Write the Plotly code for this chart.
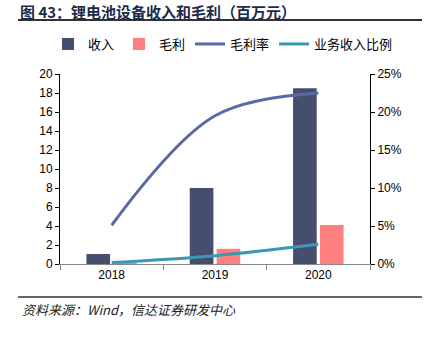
import plotly.graph_objects as go

years = ["2018", "2019", "2020"]
income = [1.05, 8.0, 18.5]
gross = [0.08, 1.6, 4.1]
margin = [0.051, 0.195, 0.225]
share = [0.002, 0.011, 0.026]

W, H = 432, 338
L, R, T, B = 60, 62, 74, 74
pw, ph = W - L - R, H - T - B

def px(x):
    return (x - L) / pw

def py(y):
    return (H - B - y) / ph

FONT = "Liberation Sans, Arial, sans-serif"

fig = go.Figure()
fig.add_trace(go.Bar(x=years, y=income, name="收入", marker_color="#464E6E",
                     marker_line_width=0))
fig.add_trace(go.Bar(x=years, y=gross, name="毛利", marker_color="#FF7F7E",
                     marker_line_width=0))
fig.add_trace(go.Scatter(x=years, y=margin, name="毛利率", mode="lines", yaxis="y2",
                         line=dict(color="#5A69A5", width=3, shape="spline", smoothing=1.0)))
fig.add_trace(go.Scatter(x=years, y=share, name="业务收入比例", mode="lines", yaxis="y2",
                         line=dict(color="#3B98B4", width=3, shape="spline")))

fig.update_layout(
    width=W, height=H,
    margin=dict(l=L, r=R, t=T, b=B),
    paper_bgcolor="white", plot_bgcolor="white",
    font=dict(family=FONT, size=12, color="#000"),
    barmode="group", bargap=0.48, bargroupgap=0.12,
    showlegend=True,
    legend=dict(orientation="h", x=px(48), xanchor="left", y=py(44), yanchor="middle",
                font=dict(size=13, family="Noto Sans CJK SC, " + FONT), itemwidth=30,
                traceorder="normal", bgcolor="rgba(0,0,0,0)", tracegroupgap=0),
    xaxis=dict(showline=True, linecolor="#888", linewidth=1, ticks="outside",
               tickson="boundaries", ticklen=5, tickcolor="#888",
               showgrid=False, tickfont=dict(size=12)),
    yaxis=dict(range=[0, 20], dtick=2, showline=True, linecolor="#000", linewidth=1,
               ticks="outside", ticklen=4, tickcolor="#000", showgrid=False,
               zeroline=False, tickfont=dict(size=12)),
    yaxis2=dict(range=[0, 0.25], dtick=0.05, tickformat=".0%", overlaying="y",
                side="right", showline=True, linecolor="#000", linewidth=1,
                ticks="outside", ticklen=4, tickcolor="#000", showgrid=False,
                zeroline=False, tickfont=dict(size=12)),
)

fig.add_annotation(text="<b>图 43：锂电池设备收入和毛利（百万元）</b>", xref="paper", yref="paper",
                   x=px(18), y=py(11), xanchor="left", yanchor="middle", showarrow=False,
                   font=dict(size=15, color="#1C2B4A", family="Noto Sans CJK SC"))
fig.add_annotation(text="<i>资料来源：Wind，信达证券研发中心</i>", xref="paper", yref="paper",
                   x=px(20), y=py(309), xanchor="left", yanchor="middle", showarrow=False,
                   font=dict(size=13, color="#222", family="Noto Sans CJK SC"))
fig.add_shape(type="line", xref="paper", yref="paper", x0=px(18), x1=px(422),
              y0=py(20), y1=py(20), line=dict(color="#333", width=2))
fig.add_shape(type="line", xref="paper", yref="paper", x0=px(18), x1=px(422),
              y0=py(297), y1=py(297), line=dict(color="#333", width=1.5))

fig.write_html("out.html")
